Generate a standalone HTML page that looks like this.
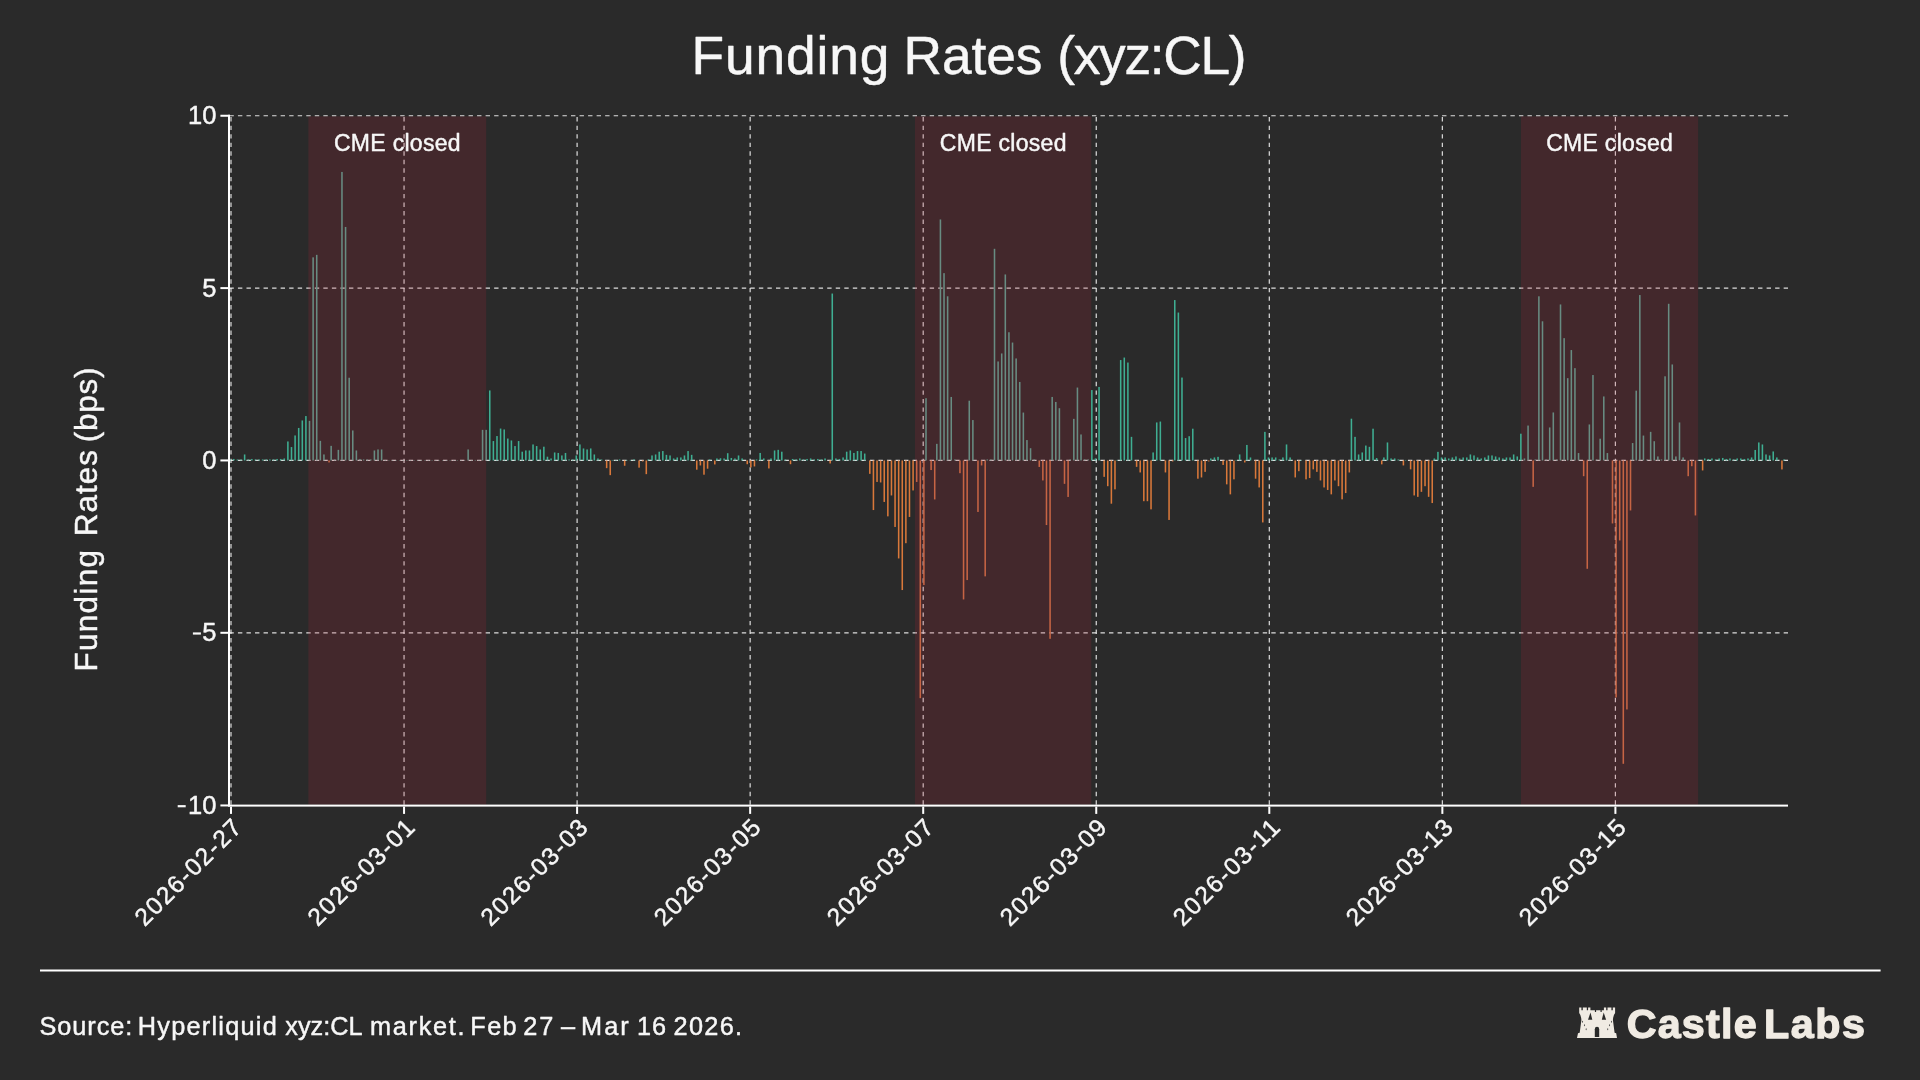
<!DOCTYPE html>
<html><head><meta charset="utf-8"><title>Funding Rates (xyz:CL)</title>
<style>
html,body{margin:0;padding:0;background:#2a2a2a;}
body{width:1920px;height:1080px;overflow:hidden;font-family:"Liberation Sans",sans-serif;}
svg{display:block;will-change:transform;}
text{font-family:"Liberation Sans",sans-serif;fill:#f7f7f7;stroke:#f7f7f7;stroke-width:0.45px;stroke-linejoin:round;}
</style></head><body>
<svg width="1920" height="1080" viewBox="0 0 1920 1080">
<rect x="0" y="0" width="1920" height="1080" fill="#2a2a2a"/>
<g stroke="rgba(255,255,255,0.84)" stroke-width="1.2" stroke-dasharray="4.4 4.14" fill="none">
<line x1="229.4" y1="115.75" x2="1788.0" y2="115.75"/>
<line x1="229.4" y1="288.10" x2="1788.0" y2="288.10"/>
<line x1="229.4" y1="460.45" x2="1788.0" y2="460.45"/>
<line x1="229.4" y1="632.80" x2="1788.0" y2="632.80"/>
<line x1="231.00" y1="804.7" x2="231.00" y2="115.0"/>
<line x1="404.05" y1="804.7" x2="404.05" y2="115.0"/>
<line x1="577.10" y1="804.7" x2="577.10" y2="115.0"/>
<line x1="750.15" y1="804.7" x2="750.15" y2="115.0"/>
<line x1="923.20" y1="804.7" x2="923.20" y2="115.0"/>
<line x1="1096.25" y1="804.7" x2="1096.25" y2="115.0"/>
<line x1="1269.30" y1="804.7" x2="1269.30" y2="115.0"/>
<line x1="1442.35" y1="804.7" x2="1442.35" y2="115.0"/>
<line x1="1615.40" y1="804.7" x2="1615.40" y2="115.0"/>
</g>
<g fill="rgba(172,37,57,0.2)">
<rect x="308.4" y="116.4" width="177.8" height="688.2"/>
<rect x="915.0" y="116.4" width="176.3" height="688.2"/>
<rect x="1521.0" y="116.4" width="177.1" height="688.2"/>
</g>
<g fill="#3fae92">
<rect x="229.42" y="459.45" width="1.55" height="1.00"/><rect x="233.03" y="458.95" width="1.55" height="1.50"/><rect x="236.64" y="459.45" width="1.55" height="1.00"/><rect x="240.24" y="459.45" width="1.55" height="1.00"/><rect x="243.85" y="454.45" width="1.55" height="6.00"/><rect x="247.45" y="459.45" width="1.55" height="1.00"/><rect x="251.06" y="458.95" width="1.55" height="1.50"/><rect x="254.66" y="459.45" width="1.55" height="1.00"/><rect x="258.27" y="459.45" width="1.55" height="1.00"/><rect x="261.87" y="459.45" width="1.55" height="1.00"/><rect x="265.48" y="459.45" width="1.55" height="1.00"/><rect x="269.08" y="459.45" width="1.55" height="1.00"/><rect x="272.69" y="459.45" width="1.55" height="1.00"/><rect x="276.29" y="458.95" width="1.55" height="1.50"/><rect x="279.90" y="458.95" width="1.55" height="1.50"/><rect x="283.50" y="458.45" width="1.55" height="2.00"/><rect x="287.11" y="441.45" width="1.55" height="19.00"/><rect x="290.71" y="447.05" width="1.55" height="13.40"/><rect x="294.32" y="435.45" width="1.55" height="25.00"/><rect x="297.92" y="427.95" width="1.55" height="32.50"/><rect x="301.53" y="420.45" width="1.55" height="40.00"/><rect x="305.13" y="416.05" width="1.55" height="44.40"/><rect x="489.00" y="390.45" width="1.55" height="70.00"/><rect x="492.60" y="441.05" width="1.55" height="19.40"/><rect x="496.21" y="436.05" width="1.55" height="24.40"/><rect x="499.81" y="428.55" width="1.55" height="31.90"/><rect x="503.42" y="429.45" width="1.55" height="31.00"/><rect x="507.03" y="438.55" width="1.55" height="21.90"/><rect x="510.63" y="440.45" width="1.55" height="20.00"/><rect x="514.24" y="446.05" width="1.55" height="14.40"/><rect x="517.84" y="441.05" width="1.55" height="19.40"/><rect x="521.45" y="451.70" width="1.55" height="8.75"/><rect x="525.05" y="450.45" width="1.55" height="10.00"/><rect x="528.66" y="450.45" width="1.55" height="10.00"/><rect x="532.26" y="444.45" width="1.55" height="16.00"/><rect x="535.87" y="446.05" width="1.55" height="14.40"/><rect x="539.47" y="449.45" width="1.55" height="11.00"/><rect x="543.08" y="446.70" width="1.55" height="13.75"/><rect x="546.68" y="456.70" width="1.55" height="3.75"/><rect x="550.29" y="458.45" width="1.55" height="2.00"/><rect x="553.89" y="452.45" width="1.55" height="8.00"/><rect x="557.50" y="452.95" width="1.55" height="7.50"/><rect x="561.10" y="455.45" width="1.55" height="5.00"/><rect x="564.71" y="452.95" width="1.55" height="7.50"/><rect x="568.31" y="459.45" width="1.55" height="1.00"/><rect x="571.92" y="459.45" width="1.55" height="1.00"/><rect x="575.52" y="455.45" width="1.55" height="5.00"/><rect x="579.13" y="444.45" width="1.55" height="16.00"/><rect x="582.73" y="448.45" width="1.55" height="12.00"/><rect x="586.34" y="449.45" width="1.55" height="11.00"/><rect x="589.95" y="448.45" width="1.55" height="12.00"/><rect x="593.55" y="454.45" width="1.55" height="6.00"/><rect x="597.16" y="458.45" width="1.55" height="2.00"/><rect x="600.76" y="459.45" width="1.55" height="1.00"/><rect x="611.58" y="459.95" width="1.55" height="0.50"/><rect x="615.18" y="459.95" width="1.55" height="0.50"/><rect x="618.79" y="459.45" width="1.55" height="1.00"/><rect x="626.00" y="459.95" width="1.55" height="0.50"/><rect x="629.60" y="459.95" width="1.55" height="0.50"/><rect x="633.21" y="459.45" width="1.55" height="1.00"/><rect x="647.63" y="459.45" width="1.55" height="1.00"/><rect x="651.23" y="455.45" width="1.55" height="5.00"/><rect x="654.84" y="454.45" width="1.55" height="6.00"/><rect x="658.44" y="451.70" width="1.55" height="8.75"/><rect x="662.05" y="451.05" width="1.55" height="9.40"/><rect x="665.65" y="454.85" width="1.55" height="5.60"/><rect x="669.26" y="455.45" width="1.55" height="5.00"/><rect x="672.86" y="458.45" width="1.55" height="2.00"/><rect x="676.47" y="457.45" width="1.55" height="3.00"/><rect x="680.07" y="457.45" width="1.55" height="3.00"/><rect x="683.68" y="455.45" width="1.55" height="5.00"/><rect x="687.29" y="451.05" width="1.55" height="9.40"/><rect x="690.89" y="454.85" width="1.55" height="5.60"/><rect x="708.92" y="459.45" width="1.55" height="1.00"/><rect x="716.13" y="458.45" width="1.55" height="2.00"/><rect x="719.73" y="458.25" width="1.55" height="2.20"/><rect x="723.34" y="458.45" width="1.55" height="2.00"/><rect x="726.94" y="453.20" width="1.55" height="7.25"/><rect x="730.55" y="457.95" width="1.55" height="2.50"/><rect x="734.15" y="458.45" width="1.55" height="2.00"/><rect x="737.76" y="455.45" width="1.55" height="5.00"/><rect x="741.36" y="458.45" width="1.55" height="2.00"/><rect x="755.78" y="459.45" width="1.55" height="1.00"/><rect x="759.39" y="452.95" width="1.55" height="7.50"/><rect x="762.99" y="458.45" width="1.55" height="2.00"/><rect x="770.21" y="458.45" width="1.55" height="2.00"/><rect x="773.81" y="450.45" width="1.55" height="10.00"/><rect x="777.42" y="449.85" width="1.55" height="10.60"/><rect x="781.02" y="451.70" width="1.55" height="8.75"/><rect x="784.63" y="459.45" width="1.55" height="1.00"/><rect x="791.84" y="458.95" width="1.55" height="1.50"/><rect x="795.44" y="459.45" width="1.55" height="1.00"/><rect x="799.05" y="458.45" width="1.55" height="2.00"/><rect x="802.65" y="459.45" width="1.55" height="1.00"/><rect x="806.26" y="458.95" width="1.55" height="1.50"/><rect x="809.86" y="458.45" width="1.55" height="2.00"/><rect x="813.47" y="459.45" width="1.55" height="1.00"/><rect x="817.07" y="458.95" width="1.55" height="1.50"/><rect x="820.68" y="459.45" width="1.55" height="1.00"/><rect x="824.28" y="458.45" width="1.55" height="2.00"/><rect x="831.49" y="293.55" width="1.55" height="166.90"/><rect x="835.10" y="458.45" width="1.55" height="2.00"/><rect x="838.70" y="458.95" width="1.55" height="1.50"/><rect x="842.31" y="457.45" width="1.55" height="3.00"/><rect x="845.91" y="451.70" width="1.55" height="8.75"/><rect x="849.52" y="450.45" width="1.55" height="10.00"/><rect x="853.12" y="452.95" width="1.55" height="7.50"/><rect x="856.73" y="451.05" width="1.55" height="9.40"/><rect x="860.33" y="451.05" width="1.55" height="9.40"/><rect x="863.94" y="453.55" width="1.55" height="6.90"/><rect x="1091.07" y="390.05" width="1.55" height="70.40"/><rect x="1094.67" y="458.45" width="1.55" height="2.00"/><rect x="1098.28" y="386.95" width="1.55" height="73.50"/><rect x="1116.30" y="459.95" width="1.55" height="0.50"/><rect x="1119.91" y="360.05" width="1.55" height="100.40"/><rect x="1123.51" y="357.55" width="1.55" height="102.90"/><rect x="1127.12" y="362.55" width="1.55" height="97.90"/><rect x="1130.72" y="436.85" width="1.55" height="23.60"/><rect x="1152.36" y="452.45" width="1.55" height="8.00"/><rect x="1155.96" y="422.45" width="1.55" height="38.00"/><rect x="1159.57" y="421.55" width="1.55" height="38.90"/><rect x="1173.99" y="300.05" width="1.55" height="160.40"/><rect x="1177.59" y="312.55" width="1.55" height="147.90"/><rect x="1181.20" y="377.55" width="1.55" height="82.90"/><rect x="1184.80" y="438.05" width="1.55" height="22.40"/><rect x="1188.41" y="436.20" width="1.55" height="24.25"/><rect x="1192.01" y="428.70" width="1.55" height="31.75"/><rect x="1210.04" y="458.45" width="1.55" height="2.00"/><rect x="1213.64" y="457.45" width="1.55" height="3.00"/><rect x="1217.25" y="456.85" width="1.55" height="3.60"/><rect x="1235.28" y="459.95" width="1.55" height="0.50"/><rect x="1238.88" y="454.45" width="1.55" height="6.00"/><rect x="1246.09" y="444.95" width="1.55" height="15.50"/><rect x="1249.70" y="457.45" width="1.55" height="3.00"/><rect x="1264.12" y="431.85" width="1.55" height="28.60"/><rect x="1267.72" y="457.45" width="1.55" height="3.00"/><rect x="1271.33" y="457.45" width="1.55" height="3.00"/><rect x="1274.93" y="457.45" width="1.55" height="3.00"/><rect x="1278.54" y="459.45" width="1.55" height="1.00"/><rect x="1282.14" y="457.45" width="1.55" height="3.00"/><rect x="1285.75" y="444.45" width="1.55" height="16.00"/><rect x="1289.35" y="457.45" width="1.55" height="3.00"/><rect x="1300.17" y="459.95" width="1.55" height="0.50"/><rect x="1350.64" y="418.70" width="1.55" height="41.75"/><rect x="1354.25" y="436.85" width="1.55" height="23.60"/><rect x="1357.85" y="454.45" width="1.55" height="6.00"/><rect x="1361.46" y="452.45" width="1.55" height="8.00"/><rect x="1365.06" y="445.55" width="1.55" height="14.90"/><rect x="1368.67" y="446.85" width="1.55" height="13.60"/><rect x="1372.27" y="428.70" width="1.55" height="31.75"/><rect x="1375.88" y="458.05" width="1.55" height="2.40"/><rect x="1383.09" y="457.45" width="1.55" height="3.00"/><rect x="1386.69" y="442.45" width="1.55" height="18.00"/><rect x="1390.30" y="458.45" width="1.55" height="2.00"/><rect x="1393.90" y="458.45" width="1.55" height="2.00"/><rect x="1397.51" y="459.45" width="1.55" height="1.00"/><rect x="1404.72" y="459.95" width="1.55" height="0.50"/><rect x="1433.56" y="458.45" width="1.55" height="2.00"/><rect x="1437.17" y="451.85" width="1.55" height="8.60"/><rect x="1440.77" y="457.45" width="1.55" height="3.00"/><rect x="1444.38" y="457.45" width="1.55" height="3.00"/><rect x="1447.98" y="458.45" width="1.55" height="2.00"/><rect x="1451.59" y="457.45" width="1.55" height="3.00"/><rect x="1455.19" y="456.45" width="1.55" height="4.00"/><rect x="1458.80" y="458.45" width="1.55" height="2.00"/><rect x="1462.40" y="457.45" width="1.55" height="3.00"/><rect x="1466.01" y="457.45" width="1.55" height="3.00"/><rect x="1469.61" y="454.45" width="1.55" height="6.00"/><rect x="1473.22" y="455.45" width="1.55" height="5.00"/><rect x="1476.82" y="457.45" width="1.55" height="3.00"/><rect x="1480.43" y="458.45" width="1.55" height="2.00"/><rect x="1484.03" y="457.45" width="1.55" height="3.00"/><rect x="1487.64" y="455.45" width="1.55" height="5.00"/><rect x="1491.24" y="455.45" width="1.55" height="5.00"/><rect x="1494.85" y="456.45" width="1.55" height="4.00"/><rect x="1498.46" y="457.45" width="1.55" height="3.00"/><rect x="1502.06" y="458.45" width="1.55" height="2.00"/><rect x="1505.67" y="457.45" width="1.55" height="3.00"/><rect x="1509.27" y="457.45" width="1.55" height="3.00"/><rect x="1512.88" y="454.45" width="1.55" height="6.00"/><rect x="1516.48" y="456.45" width="1.55" height="4.00"/><rect x="1520.09" y="433.70" width="1.55" height="26.75"/><rect x="1703.95" y="458.45" width="1.55" height="2.00"/><rect x="1707.56" y="458.95" width="1.55" height="1.50"/><rect x="1711.16" y="458.45" width="1.55" height="2.00"/><rect x="1714.77" y="459.45" width="1.55" height="1.00"/><rect x="1718.37" y="458.45" width="1.55" height="2.00"/><rect x="1721.98" y="457.95" width="1.55" height="2.50"/><rect x="1725.58" y="458.95" width="1.55" height="1.50"/><rect x="1729.19" y="458.45" width="1.55" height="2.00"/><rect x="1732.79" y="459.45" width="1.55" height="1.00"/><rect x="1736.40" y="458.45" width="1.55" height="2.00"/><rect x="1740.00" y="458.45" width="1.55" height="2.00"/><rect x="1743.61" y="458.95" width="1.55" height="1.50"/><rect x="1747.21" y="458.45" width="1.55" height="2.00"/><rect x="1750.82" y="457.45" width="1.55" height="3.00"/><rect x="1754.42" y="449.95" width="1.55" height="10.50"/><rect x="1758.03" y="442.45" width="1.55" height="18.00"/><rect x="1761.63" y="444.45" width="1.55" height="16.00"/><rect x="1765.24" y="454.45" width="1.55" height="6.00"/><rect x="1768.85" y="455.45" width="1.55" height="5.00"/><rect x="1772.45" y="451.45" width="1.55" height="9.00"/><rect x="1776.06" y="457.45" width="1.55" height="3.00"/><rect x="1783.27" y="459.45" width="1.55" height="1.00"/>
</g>
<g fill="#688c82">
<rect x="308.74" y="420.85" width="1.55" height="39.60"/><rect x="312.34" y="257.35" width="1.55" height="203.10"/><rect x="315.95" y="254.85" width="1.55" height="205.60"/><rect x="319.56" y="440.85" width="1.55" height="19.60"/><rect x="323.16" y="454.45" width="1.55" height="6.00"/><rect x="330.37" y="445.85" width="1.55" height="14.60"/><rect x="333.98" y="459.45" width="1.55" height="1.00"/><rect x="337.58" y="449.85" width="1.55" height="10.60"/><rect x="341.19" y="171.95" width="1.55" height="288.50"/><rect x="344.79" y="226.95" width="1.55" height="233.50"/><rect x="348.40" y="377.75" width="1.55" height="82.70"/><rect x="352.00" y="430.45" width="1.55" height="30.00"/><rect x="355.61" y="450.45" width="1.55" height="10.00"/><rect x="359.21" y="458.95" width="1.55" height="1.50"/><rect x="362.82" y="459.45" width="1.55" height="1.00"/><rect x="366.42" y="459.45" width="1.55" height="1.00"/><rect x="370.03" y="459.45" width="1.55" height="1.00"/><rect x="373.63" y="450.45" width="1.55" height="10.00"/><rect x="377.24" y="449.45" width="1.55" height="11.00"/><rect x="380.84" y="449.45" width="1.55" height="11.00"/><rect x="384.45" y="459.95" width="1.55" height="0.50"/><rect x="388.05" y="460.05" width="1.55" height="0.40"/><rect x="391.66" y="460.05" width="1.55" height="0.40"/><rect x="395.26" y="460.05" width="1.55" height="0.40"/><rect x="398.87" y="460.05" width="1.55" height="0.40"/><rect x="402.47" y="460.05" width="1.55" height="0.40"/><rect x="406.08" y="460.05" width="1.55" height="0.40"/><rect x="409.69" y="460.05" width="1.55" height="0.40"/><rect x="413.29" y="460.05" width="1.55" height="0.40"/><rect x="416.90" y="460.05" width="1.55" height="0.40"/><rect x="420.50" y="460.05" width="1.55" height="0.40"/><rect x="424.11" y="460.05" width="1.55" height="0.40"/><rect x="427.71" y="460.05" width="1.55" height="0.40"/><rect x="431.32" y="460.05" width="1.55" height="0.40"/><rect x="434.92" y="460.05" width="1.55" height="0.40"/><rect x="438.53" y="460.05" width="1.55" height="0.40"/><rect x="442.13" y="460.05" width="1.55" height="0.40"/><rect x="445.74" y="460.05" width="1.55" height="0.40"/><rect x="449.34" y="460.05" width="1.55" height="0.40"/><rect x="452.95" y="460.05" width="1.55" height="0.40"/><rect x="456.55" y="460.05" width="1.55" height="0.40"/><rect x="460.16" y="460.05" width="1.55" height="0.40"/><rect x="463.76" y="460.05" width="1.55" height="0.40"/><rect x="467.37" y="449.45" width="1.55" height="11.00"/><rect x="470.97" y="459.95" width="1.55" height="0.50"/><rect x="474.58" y="459.95" width="1.55" height="0.50"/><rect x="478.18" y="459.95" width="1.55" height="0.50"/><rect x="481.79" y="429.85" width="1.55" height="30.60"/><rect x="485.39" y="429.85" width="1.55" height="30.60"/><rect x="925.23" y="398.20" width="1.55" height="62.25"/><rect x="936.04" y="443.85" width="1.55" height="16.60"/><rect x="939.65" y="219.45" width="1.55" height="241.00"/><rect x="943.25" y="273.15" width="1.55" height="187.30"/><rect x="946.86" y="296.30" width="1.55" height="164.15"/><rect x="950.47" y="396.95" width="1.55" height="63.50"/><rect x="954.07" y="459.45" width="1.55" height="1.00"/><rect x="968.49" y="400.70" width="1.55" height="59.75"/><rect x="972.10" y="420.05" width="1.55" height="40.40"/><rect x="986.52" y="459.45" width="1.55" height="1.00"/><rect x="990.12" y="459.45" width="1.55" height="1.00"/><rect x="993.73" y="248.80" width="1.55" height="211.65"/><rect x="997.33" y="361.45" width="1.55" height="99.00"/><rect x="1000.94" y="353.45" width="1.55" height="107.00"/><rect x="1004.54" y="274.45" width="1.55" height="186.00"/><rect x="1008.15" y="332.25" width="1.55" height="128.20"/><rect x="1011.75" y="342.55" width="1.55" height="117.90"/><rect x="1015.36" y="358.45" width="1.55" height="102.00"/><rect x="1018.96" y="381.95" width="1.55" height="78.50"/><rect x="1022.57" y="412.55" width="1.55" height="47.90"/><rect x="1026.17" y="440.05" width="1.55" height="20.40"/><rect x="1029.78" y="448.20" width="1.55" height="12.25"/><rect x="1033.38" y="459.45" width="1.55" height="1.00"/><rect x="1051.41" y="396.95" width="1.55" height="63.50"/><rect x="1055.02" y="401.95" width="1.55" height="58.50"/><rect x="1058.62" y="408.20" width="1.55" height="52.25"/><rect x="1069.44" y="459.45" width="1.55" height="1.00"/><rect x="1073.04" y="418.85" width="1.55" height="41.60"/><rect x="1076.65" y="387.55" width="1.55" height="72.90"/><rect x="1080.25" y="434.45" width="1.55" height="26.00"/><rect x="1083.86" y="459.45" width="1.55" height="1.00"/><rect x="1087.46" y="459.45" width="1.55" height="1.00"/><rect x="1523.69" y="458.45" width="1.55" height="2.00"/><rect x="1527.30" y="425.55" width="1.55" height="34.90"/><rect x="1534.51" y="459.45" width="1.55" height="1.00"/><rect x="1538.11" y="296.30" width="1.55" height="164.15"/><rect x="1541.72" y="321.30" width="1.55" height="139.15"/><rect x="1545.32" y="459.45" width="1.55" height="1.00"/><rect x="1548.93" y="427.45" width="1.55" height="33.00"/><rect x="1552.53" y="412.45" width="1.55" height="48.00"/><rect x="1556.14" y="459.45" width="1.55" height="1.00"/><rect x="1559.74" y="304.45" width="1.55" height="156.00"/><rect x="1563.35" y="338.15" width="1.55" height="122.30"/><rect x="1566.95" y="378.15" width="1.55" height="82.30"/><rect x="1570.56" y="350.05" width="1.55" height="110.40"/><rect x="1574.16" y="368.15" width="1.55" height="92.30"/><rect x="1577.77" y="453.05" width="1.55" height="7.40"/><rect x="1588.59" y="424.45" width="1.55" height="36.00"/><rect x="1592.19" y="375.05" width="1.55" height="85.40"/><rect x="1595.80" y="459.45" width="1.55" height="1.00"/><rect x="1599.40" y="438.70" width="1.55" height="21.75"/><rect x="1603.01" y="396.45" width="1.55" height="64.00"/><rect x="1606.61" y="453.05" width="1.55" height="7.40"/><rect x="1631.85" y="443.05" width="1.55" height="17.40"/><rect x="1635.45" y="390.65" width="1.55" height="69.80"/><rect x="1639.06" y="295.05" width="1.55" height="165.40"/><rect x="1642.66" y="435.55" width="1.55" height="24.90"/><rect x="1646.27" y="459.45" width="1.55" height="1.00"/><rect x="1649.87" y="431.85" width="1.55" height="28.60"/><rect x="1653.48" y="441.20" width="1.55" height="19.25"/><rect x="1657.08" y="456.45" width="1.55" height="4.00"/><rect x="1660.69" y="459.45" width="1.55" height="1.00"/><rect x="1664.29" y="376.30" width="1.55" height="84.15"/><rect x="1667.90" y="303.80" width="1.55" height="156.65"/><rect x="1671.50" y="364.45" width="1.55" height="96.00"/><rect x="1675.11" y="456.45" width="1.55" height="4.00"/><rect x="1678.72" y="422.45" width="1.55" height="38.00"/><rect x="1682.32" y="457.45" width="1.55" height="3.00"/><rect x="1696.74" y="459.95" width="1.55" height="0.50"/>
</g>
<g fill="#d9783a">
<rect x="605.87" y="460.45" width="1.55" height="7.70"/><rect x="609.47" y="460.45" width="1.55" height="14.70"/><rect x="623.89" y="460.45" width="1.55" height="5.30"/><rect x="638.31" y="460.45" width="1.55" height="7.20"/><rect x="641.92" y="460.45" width="1.55" height="1.00"/><rect x="645.52" y="460.45" width="1.55" height="13.70"/><rect x="696.00" y="460.45" width="1.55" height="9.25"/><rect x="699.60" y="460.45" width="1.55" height="5.00"/><rect x="703.21" y="460.45" width="1.55" height="14.25"/><rect x="706.81" y="460.45" width="1.55" height="8.25"/><rect x="714.02" y="460.45" width="1.55" height="4.00"/><rect x="746.47" y="460.45" width="1.55" height="3.75"/><rect x="750.07" y="460.45" width="1.55" height="7.00"/><rect x="753.68" y="460.45" width="1.55" height="6.00"/><rect x="768.10" y="460.45" width="1.55" height="8.00"/><rect x="789.73" y="460.45" width="1.55" height="3.75"/><rect x="829.39" y="460.45" width="1.55" height="3.00"/><rect x="869.05" y="460.45" width="1.55" height="13.40"/><rect x="872.65" y="460.45" width="1.55" height="49.60"/><rect x="876.26" y="460.45" width="1.55" height="21.50"/><rect x="879.86" y="460.45" width="1.55" height="22.00"/><rect x="883.47" y="460.45" width="1.55" height="41.50"/><rect x="887.07" y="460.45" width="1.55" height="55.90"/><rect x="890.68" y="460.45" width="1.55" height="35.00"/><rect x="894.28" y="460.45" width="1.55" height="66.50"/><rect x="897.89" y="460.45" width="1.55" height="98.00"/><rect x="901.49" y="460.45" width="1.55" height="129.60"/><rect x="905.10" y="460.45" width="1.55" height="82.75"/><rect x="908.70" y="460.45" width="1.55" height="56.50"/><rect x="912.31" y="460.45" width="1.55" height="30.00"/><rect x="1103.38" y="460.45" width="1.55" height="16.40"/><rect x="1106.99" y="460.45" width="1.55" height="25.75"/><rect x="1110.59" y="460.45" width="1.55" height="43.25"/><rect x="1114.20" y="460.45" width="1.55" height="28.90"/><rect x="1135.83" y="460.45" width="1.55" height="6.40"/><rect x="1139.44" y="460.45" width="1.55" height="12.00"/><rect x="1143.04" y="460.45" width="1.55" height="40.75"/><rect x="1146.65" y="460.45" width="1.55" height="40.75"/><rect x="1150.25" y="460.45" width="1.55" height="48.90"/><rect x="1164.67" y="460.45" width="1.55" height="12.00"/><rect x="1168.28" y="460.45" width="1.55" height="59.50"/><rect x="1171.88" y="460.45" width="1.55" height="1.00"/><rect x="1197.12" y="460.45" width="1.55" height="18.25"/><rect x="1200.72" y="460.45" width="1.55" height="17.00"/><rect x="1204.33" y="460.45" width="1.55" height="11.40"/><rect x="1207.93" y="460.45" width="1.55" height="1.00"/><rect x="1222.35" y="460.45" width="1.55" height="4.50"/><rect x="1225.96" y="460.45" width="1.55" height="23.90"/><rect x="1229.57" y="460.45" width="1.55" height="33.90"/><rect x="1233.17" y="460.45" width="1.55" height="18.90"/><rect x="1243.99" y="460.45" width="1.55" height="2.00"/><rect x="1254.80" y="460.45" width="1.55" height="18.25"/><rect x="1258.41" y="460.45" width="1.55" height="27.00"/><rect x="1262.01" y="460.45" width="1.55" height="62.00"/><rect x="1294.46" y="460.45" width="1.55" height="17.00"/><rect x="1298.06" y="460.45" width="1.55" height="10.75"/><rect x="1305.27" y="460.45" width="1.55" height="18.90"/><rect x="1308.88" y="460.45" width="1.55" height="17.60"/><rect x="1312.48" y="460.45" width="1.55" height="8.90"/><rect x="1316.09" y="460.45" width="1.55" height="11.40"/><rect x="1319.70" y="460.45" width="1.55" height="20.00"/><rect x="1323.30" y="460.45" width="1.55" height="27.00"/><rect x="1326.91" y="460.45" width="1.55" height="29.50"/><rect x="1330.51" y="460.45" width="1.55" height="33.90"/><rect x="1334.12" y="460.45" width="1.55" height="20.00"/><rect x="1337.72" y="460.45" width="1.55" height="25.75"/><rect x="1341.33" y="460.45" width="1.55" height="38.90"/><rect x="1344.93" y="460.45" width="1.55" height="32.60"/><rect x="1348.54" y="460.45" width="1.55" height="12.00"/><rect x="1380.98" y="460.45" width="1.55" height="3.90"/><rect x="1402.62" y="460.45" width="1.55" height="5.00"/><rect x="1409.83" y="460.45" width="1.55" height="8.90"/><rect x="1413.43" y="460.45" width="1.55" height="35.00"/><rect x="1417.04" y="460.45" width="1.55" height="36.40"/><rect x="1420.64" y="460.45" width="1.55" height="31.40"/><rect x="1424.25" y="460.45" width="1.55" height="25.75"/><rect x="1427.85" y="460.45" width="1.55" height="36.40"/><rect x="1431.46" y="460.45" width="1.55" height="42.60"/><rect x="1701.85" y="460.45" width="1.55" height="10.00"/><rect x="1781.16" y="460.45" width="1.55" height="9.00"/>
</g>
<g fill="#c66444">
<rect x="328.27" y="460.45" width="1.55" height="2.00"/><rect x="915.91" y="460.45" width="1.55" height="21.50"/><rect x="919.52" y="460.45" width="1.55" height="237.70"/><rect x="923.12" y="460.45" width="1.55" height="124.60"/><rect x="930.33" y="460.45" width="1.55" height="9.60"/><rect x="933.94" y="460.45" width="1.55" height="39.00"/><rect x="959.18" y="460.45" width="1.55" height="12.75"/><rect x="962.78" y="460.45" width="1.55" height="139.00"/><rect x="966.39" y="460.45" width="1.55" height="119.60"/><rect x="977.20" y="460.45" width="1.55" height="51.50"/><rect x="980.81" y="460.45" width="1.55" height="5.00"/><rect x="984.41" y="460.45" width="1.55" height="115.90"/><rect x="1038.49" y="460.45" width="1.55" height="6.50"/><rect x="1042.09" y="460.45" width="1.55" height="20.00"/><rect x="1045.70" y="460.45" width="1.55" height="64.60"/><rect x="1049.31" y="460.45" width="1.55" height="178.35"/><rect x="1063.73" y="460.45" width="1.55" height="23.40"/><rect x="1067.33" y="460.45" width="1.55" height="36.50"/><rect x="1532.40" y="460.45" width="1.55" height="26.40"/><rect x="1582.88" y="460.45" width="1.55" height="15.75"/><rect x="1586.48" y="460.45" width="1.55" height="108.35"/><rect x="1611.72" y="460.45" width="1.55" height="63.00"/><rect x="1615.32" y="460.45" width="1.55" height="237.00"/><rect x="1618.93" y="460.45" width="1.55" height="80.00"/><rect x="1622.53" y="460.45" width="1.55" height="303.35"/><rect x="1626.14" y="460.45" width="1.55" height="249.00"/><rect x="1629.74" y="460.45" width="1.55" height="50.00"/><rect x="1687.43" y="460.45" width="1.55" height="15.75"/><rect x="1691.03" y="460.45" width="1.55" height="5.75"/><rect x="1694.64" y="460.45" width="1.55" height="55.00"/>
</g>
<g fill="#ffffff">
<rect x="228" y="114.6" width="2" height="692"/>
<rect x="228" y="804.6" width="1560" height="2"/>
<rect x="220.4" y="114.75" width="7.6" height="2"/>
<rect x="220.4" y="287.10" width="7.6" height="2"/>
<rect x="220.4" y="459.45" width="7.6" height="2"/>
<rect x="220.4" y="631.80" width="7.6" height="2"/>
<rect x="220.4" y="804.45" width="7.6" height="2"/>
<rect x="230.00" y="806.6" width="2" height="7.3"/>
<rect x="403.05" y="806.6" width="2" height="7.3"/>
<rect x="576.10" y="806.6" width="2" height="7.3"/>
<rect x="749.15" y="806.6" width="2" height="7.3"/>
<rect x="922.20" y="806.6" width="2" height="7.3"/>
<rect x="1095.25" y="806.6" width="2" height="7.3"/>
<rect x="1268.30" y="806.6" width="2" height="7.3"/>
<rect x="1441.35" y="806.6" width="2" height="7.3"/>
<rect x="1614.40" y="806.6" width="2" height="7.3"/>
</g>
<text x="397.3" y="150.8" font-size="23" text-anchor="middle" textLength="126.7" lengthAdjust="spacing">CME closed</text>
<text x="1003.1" y="150.8" font-size="23" text-anchor="middle" textLength="126.7" lengthAdjust="spacing">CME closed</text>
<text x="1609.5" y="150.8" font-size="23" text-anchor="middle" textLength="126.7" lengthAdjust="spacing">CME closed</text>
<text x="691.60" y="73.70" font-size="53.3" letter-spacing="0.856">Funding</text>
<text x="903.50" y="73.70" font-size="53.3" letter-spacing="-0.070">Rates</text>
<text x="1057.30" y="73.70" font-size="53.3" letter-spacing="-1.305">(xyz:CL)</text>
<text x="216.4" y="124.3" font-size="25.5" text-anchor="end">10</text>
<text x="216.4" y="296.7" font-size="25.5" text-anchor="end">5</text>
<text x="216.4" y="469.1" font-size="25.5" text-anchor="end">0</text>
<text x="216.4" y="641.4" font-size="25.5" text-anchor="end">5</text>
<rect x="192.9" y="632.4" width="8" height="2.2" fill="#f7f7f7"/>
<text x="216.4" y="813.8" font-size="25.5" text-anchor="end">10</text>
<rect x="177.7" y="805.1" width="8" height="2.2" fill="#f7f7f7"/>
<text transform="translate(243.0,829.0) rotate(-45)" x="0" y="0" font-size="24.5" text-anchor="end" textLength="139" lengthAdjust="spacing">2026-02-27</text>
<text transform="translate(416.1,829.0) rotate(-45)" x="0" y="0" font-size="24.5" text-anchor="end" textLength="139" lengthAdjust="spacing">2026-03-01</text>
<text transform="translate(589.1,829.0) rotate(-45)" x="0" y="0" font-size="24.5" text-anchor="end" textLength="139" lengthAdjust="spacing">2026-03-03</text>
<text transform="translate(762.2,829.0) rotate(-45)" x="0" y="0" font-size="24.5" text-anchor="end" textLength="139" lengthAdjust="spacing">2026-03-05</text>
<text transform="translate(935.2,829.0) rotate(-45)" x="0" y="0" font-size="24.5" text-anchor="end" textLength="139" lengthAdjust="spacing">2026-03-07</text>
<text transform="translate(1108.2,829.0) rotate(-45)" x="0" y="0" font-size="24.5" text-anchor="end" textLength="139" lengthAdjust="spacing">2026-03-09</text>
<text transform="translate(1281.3,829.0) rotate(-45)" x="0" y="0" font-size="24.5" text-anchor="end" textLength="139" lengthAdjust="spacing">2026-03-11</text>
<text transform="translate(1454.4,829.0) rotate(-45)" x="0" y="0" font-size="24.5" text-anchor="end" textLength="139" lengthAdjust="spacing">2026-03-13</text>
<text transform="translate(1627.4,829.0) rotate(-45)" x="0" y="0" font-size="24.5" text-anchor="end" textLength="139" lengthAdjust="spacing">2026-03-15</text>
<text x="-2.00" y="0.00" font-size="31.5" letter-spacing="1.298" transform="translate(96.7,669.6) rotate(-90)">Funding</text>
<text x="133.40" y="0.00" font-size="31.5" letter-spacing="0.966" transform="translate(96.7,669.6) rotate(-90)">Rates</text>
<text x="227.30" y="0.00" font-size="31.5" letter-spacing="0.781" transform="translate(96.7,669.6) rotate(-90)">(bps)</text>
<rect x="40" y="969.5" width="1840.6" height="2" fill="#ffffff"/>
<text x="39.60" y="1035.10" font-size="25.3" letter-spacing="0.908">Source:</text>
<text x="137.80" y="1035.10" font-size="25.3" letter-spacing="1.242">Hyperliquid</text>
<text x="285.30" y="1035.10" font-size="25.3" letter-spacing="-0.028">xyz:CL</text>
<text x="370.00" y="1035.10" font-size="25.3" letter-spacing="1.715">market.</text>
<text x="470.30" y="1035.10" font-size="25.3" letter-spacing="1.389">Feb</text>
<text x="523.30" y="1035.10" font-size="25.3" letter-spacing="1.831">27</text>
<text x="560.90" y="1035.10" font-size="25.3" letter-spacing="0.000">–</text>
<text x="581.00" y="1035.10" font-size="25.3" letter-spacing="2.079">Mar</text>
<text x="637.00" y="1035.10" font-size="25.3" letter-spacing="0.931">16</text>
<text x="673.60" y="1035.10" font-size="25.3" letter-spacing="1.306">2026.</text>
<g fill="#f0ebe3">
<path d="M1577 1038 L1578 1033.2 L1579.7 1032.8 L1581.4 1020 Q1581.2 1015.5 1579.2 1013 L1579.2 1007.6 L1581.4 1007.6 L1581.4 1010.2 L1582.8 1010.2 L1582.8 1007.6 L1586.8 1007.6 L1586.8 1010.2 L1588.1 1010.2 L1588.1 1007.6 L1590.4 1007.6 L1590.4 1010.3 L1594.9 1010.3 L1594.9 1012 L1596.1 1012 L1596.1 1010.3 L1600.5 1010.3 L1600.5 1012 L1601.7 1012 L1601.7 1010.3 L1603.9 1010.3 L1603.9 1007.6 L1606.2 1007.6 L1606.2 1010.2 L1607.5 1010.2 L1607.5 1007.6 L1611.4 1007.6 L1611.4 1010.2 L1612.8 1010.2 L1612.8 1007.6 L1615.1 1007.6 L1615.1 1013 Q1613.1 1015.5 1612.9 1020 L1614.6 1032.8 L1616.2 1033.2 L1617 1038 Z"/>
</g>
<g fill="#2a2a2a">
<path d="M1594.8 1036.9 L1594.8 1029.2 Q1594.8 1026.8 1597 1026.8 Q1599.2 1026.8 1599.2 1029.2 L1599.2 1036.9 Z"/>
<path d="M1588 1019.7 L1590.5 1012.6 L1592.3 1019.7 Z"/>
<path d="M1601.8 1019.7 L1603.7 1012.6 L1606.1 1019.7 Z"/>
<ellipse cx="1582.5" cy="1021.8" rx="0.55" ry="1.0" opacity="0.75"/>
<ellipse cx="1584.5" cy="1025.3" rx="0.55" ry="1.0" opacity="0.75"/>
<ellipse cx="1586.2" cy="1029.2" rx="0.55" ry="1.0" opacity="0.75"/>
<ellipse cx="1611.5" cy="1021.8" rx="0.55" ry="1.0" opacity="0.75"/>
<ellipse cx="1609.5" cy="1025.3" rx="0.55" ry="1.0" opacity="0.75"/>
<ellipse cx="1607.7" cy="1029.2" rx="0.55" ry="1.0" opacity="0.75"/>
</g>
<text x="1626.65" y="1037.60" font-size="41.3" letter-spacing="1.203" font-weight="bold" style="fill:#f0ebe3;stroke:#f0ebe3;stroke-width:1.3;stroke-linejoin:round">Castle</text>
<text x="1764.05" y="1037.60" font-size="41.3" letter-spacing="1.527" font-weight="bold" style="fill:#f0ebe3;stroke:#f0ebe3;stroke-width:1.3;stroke-linejoin:round">Labs</text>
</svg>
</body></html>
